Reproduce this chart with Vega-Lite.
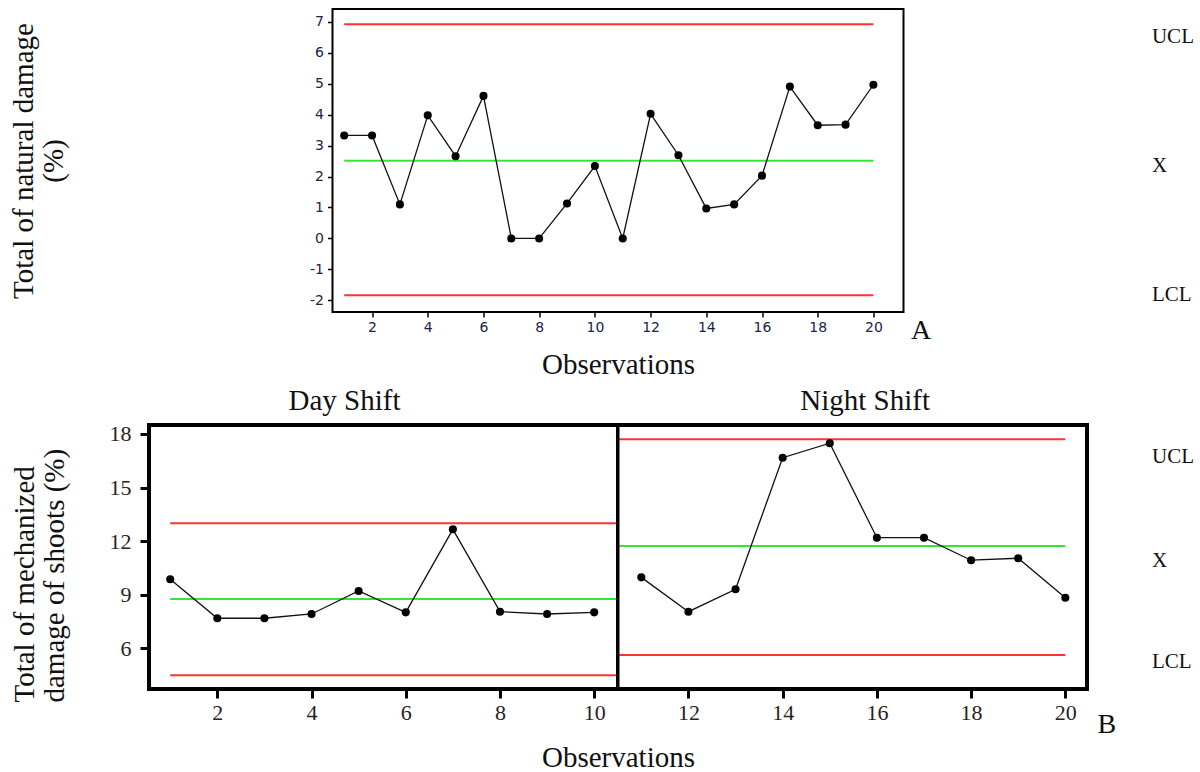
{
  "$schema": "https://vega.github.io/schema/vega-lite/v6.json",
  "background": "white",
  "padding": {"left": 8, "top": 8, "right": 0, "bottom": 0},
  "spacing": 113,
  "center": true,
  "bounds": "flush",
  "config": {"view": {"stroke": null}},
  "datasets": {
    "a": [
      {"x": 1, "y": 3.33}, {"x": 2, "y": 3.33}, {"x": 3, "y": 1.10}, {"x": 4, "y": 3.98},
      {"x": 5, "y": 2.66}, {"x": 6, "y": 4.61}, {"x": 7, "y": 0}, {"x": 8, "y": 0},
      {"x": 9, "y": 1.13}, {"x": 10, "y": 2.34}, {"x": 11, "y": 0}, {"x": 12, "y": 4.03},
      {"x": 13, "y": 2.69}, {"x": 14, "y": 0.97}, {"x": 15, "y": 1.10}, {"x": 16, "y": 2.03},
      {"x": 17, "y": 4.91}, {"x": 18, "y": 3.66}, {"x": 19, "y": 3.68}, {"x": 20, "y": 4.97}
    ],
    "aLimits": [
      {"x": 1, "x2": 20, "y": 6.93, "kind": "limit"},
      {"x": 1, "x2": 20, "y": 2.51, "kind": "center"},
      {"x": 1, "x2": 20, "y": -1.84, "kind": "limit"}
    ],
    "aSide": [
      {"x": 30.0, "y": 6.33, "label": "UCL"},
      {"x": 30.0, "y": 2.16, "label": "X"},
      {"x": 30.0, "y": -2.03, "label": "LCL"}
    ],
    "aTag": [{"x": 21.71, "y": -3.26, "label": "A"}],
    "b": [
      {"x": 1, "y": 9.86, "shift": "Day"}, {"x": 2, "y": 7.68, "shift": "Day"},
      {"x": 3, "y": 7.68, "shift": "Day"}, {"x": 4, "y": 7.92, "shift": "Day"},
      {"x": 5, "y": 9.21, "shift": "Day"}, {"x": 6, "y": 8.01, "shift": "Day"},
      {"x": 7, "y": 12.66, "shift": "Day"}, {"x": 8, "y": 8.05, "shift": "Day"},
      {"x": 9, "y": 7.92, "shift": "Day"}, {"x": 10, "y": 8.01, "shift": "Day"},
      {"x": 11, "y": 9.97, "shift": "Night"}, {"x": 12, "y": 8.05, "shift": "Night"},
      {"x": 13, "y": 9.30, "shift": "Night"}, {"x": 14, "y": 16.67, "shift": "Night"},
      {"x": 15, "y": 17.48, "shift": "Night"}, {"x": 16, "y": 12.19, "shift": "Night"},
      {"x": 17, "y": 12.19, "shift": "Night"}, {"x": 18, "y": 10.93, "shift": "Night"},
      {"x": 19, "y": 11.04, "shift": "Night"}, {"x": 20, "y": 8.83, "shift": "Night"}
    ],
    "bLimits": [
      {"x": 1, "x2": 10.5, "y": 13.0, "kind": "limit"},
      {"x": 1, "x2": 10.5, "y": 8.76, "kind": "center"},
      {"x": 1, "x2": 10.5, "y": 4.49, "kind": "limit"},
      {"x": 10.5, "x2": 20, "y": 17.70, "kind": "limit"},
      {"x": 10.5, "x2": 20, "y": 11.73, "kind": "center"},
      {"x": 10.5, "x2": 20, "y": 5.62, "kind": "limit"}
    ],
    "bDivider": [{"x": 10.5, "y": 3.72, "y2": 18.5}],
    "bShift": [
      {"x": 4.70, "y": 19.34, "label": "Day Shift"},
      {"x": 15.75, "y": 19.34, "label": "Night Shift"}
    ],
    "bSide": [
      {"x": 21.84, "y": 16.38, "label": "UCL"},
      {"x": 21.84, "y": 10.55, "label": "X"},
      {"x": 21.84, "y": 4.90, "label": "LCL"}
    ],
    "bTag": [{"x": 20.88, "y": 1.26, "label": "B"}]
  },
  "vconcat": [
    {
      "width": 571,
      "height": 303,
      "view": {"stroke": "black", "strokeWidth": 2, "fill": "white"},
      "encoding": {
        "x": {
          "field": "x", "type": "quantitative",
          "scale": {"domain": [0.58, 21.08], "nice": false, "zero": false},
          "axis": {
            "title": "Observations",
            "values": [2, 4, 6, 8, 10, 12, 14, 16, 18, 20],
            "labelOverlap": false,
            "grid": false, "domain": false,
            "tickColor": "black", "tickSize": 5, "tickWidth": 1.5,
            "labelFont": "DejaVu Sans", "labelFontSize": 14, "labelColor": "#22224a", "labelPadding": 3,
            "titleFont": "Liberation Serif", "titleFontSize": 29, "titleFontWeight": "normal",
            "titleColor": "#111", "titlePadding": 16
          }
        },
        "y": {
          "field": "y", "type": "quantitative",
          "scale": {"domain": [-2.38, 7.42], "nice": false, "zero": false},
          "axis": {
            "title": ["Total of natural damage", "(%)"],
            "values": [-2, -1, 0, 1, 2, 3, 4, 5, 6, 7],
            "labelExpr": "'' + datum.value",
            "labelOverlap": false,
            "grid": false, "domain": false,
            "tickColor": "black", "tickSize": 5, "tickWidth": 1.5,
            "labelFont": "DejaVu Sans", "labelFontSize": 14, "labelColor": "#22224a", "labelPadding": 4,
            "titleFont": "Liberation Serif", "titleFontSize": 29, "titleFontWeight": "normal",
            "titleColor": "#111", "titlePadding": 241, "titleLineHeight": 30
          }
        }
      },
      "layer": [
        {
          "data": {"name": "aLimits"},
          "mark": {"type": "rule", "strokeWidth": 2},
          "encoding": {
            "x2": {"field": "x2"},
            "color": {
              "field": "kind", "type": "nominal",
              "scale": {"domain": ["limit", "center"], "range": ["#ff3333", "#33e833"]},
              "legend": null
            }
          }
        },
        {
          "data": {"name": "a"},
          "mark": {"type": "line", "color": "#111", "strokeWidth": 1.3},
          "encoding": {}
        },
        {
          "data": {"name": "a"},
          "mark": {"type": "point", "filled": true, "color": "black", "size": 65, "opacity": 1}
        },
        {
          "data": {"name": "aSide"},
          "mark": {"type": "text", "font": "Liberation Serif", "fontSize": 21, "align": "left", "baseline": "alphabetic", "color": "#111"},
          "encoding": {"text": {"field": "label"}}
        },
        {
          "data": {"name": "aTag"},
          "mark": {"type": "text", "font": "Liberation Serif", "fontSize": 28, "align": "center", "baseline": "alphabetic", "color": "#111"},
          "encoding": {"text": {"field": "label"}}
        }
      ]
    },
    {
      "width": 938,
      "height": 264,
      "view": {"stroke": "black", "strokeWidth": 4, "fill": "white"},
      "encoding": {
        "x": {
          "field": "x", "type": "quantitative",
          "scale": {"domain": [0.55, 20.46], "nice": false, "zero": false},
          "axis": {
            "title": "Observations",
            "values": [2, 4, 6, 8, 10, 12, 14, 16, 18, 20],
            "labelOverlap": false,
            "grid": false, "domain": false,
            "tickColor": "black", "tickSize": 9, "tickWidth": 3,
            "labelFont": "Liberation Serif", "labelFontSize": 22, "labelColor": "#2a2222", "labelPadding": 4,
            "titleFont": "Liberation Serif", "titleFontSize": 29, "titleFontWeight": "normal",
            "titleColor": "#111", "titlePadding": 20
          }
        },
        "y": {
          "field": "y", "type": "quantitative",
          "scale": {"domain": [3.72, 18.5], "nice": false, "zero": false},
          "axis": {
            "title": ["Total of mechanized", "damage of shoots (%)"],
            "values": [6, 9, 12, 15, 18],
            "labelOverlap": false,
            "grid": false, "domain": false,
            "tickColor": "black", "tickSize": 9, "tickWidth": 3,
            "labelFont": "Liberation Serif", "labelFontSize": 22, "labelColor": "#2a2222", "labelPadding": 9,
            "titleFont": "Liberation Serif", "titleFontSize": 29, "titleFontWeight": "normal",
            "titleColor": "#111", "titlePadding": 40, "titleLineHeight": 30, "titleAnchor": "start",
            "titleY": 277
          }
        }
      },
      "layer": [
        {
          "data": {"name": "bLimits"},
          "mark": {"type": "rule", "strokeWidth": 2},
          "encoding": {
            "x2": {"field": "x2"},
            "color": {
              "field": "kind", "type": "nominal",
              "scale": {"domain": ["limit", "center"], "range": ["#ff3333", "#33e833"]},
              "legend": null
            }
          }
        },
        {
          "data": {"name": "bDivider"},
          "mark": {"type": "rule", "color": "black", "strokeWidth": 3.5},
          "encoding": {"y2": {"field": "y2"}}
        },
        {
          "data": {"name": "b"},
          "mark": {"type": "line", "color": "#111", "strokeWidth": 1.3},
          "encoding": {"detail": {"field": "shift"}}
        },
        {
          "data": {"name": "b"},
          "mark": {"type": "point", "filled": true, "color": "black", "size": 65, "opacity": 1}
        },
        {
          "data": {"name": "bShift"},
          "mark": {"type": "text", "font": "Liberation Serif", "fontSize": 29, "align": "center", "baseline": "alphabetic", "color": "#111"},
          "encoding": {"text": {"field": "label"}}
        },
        {
          "data": {"name": "bSide"},
          "mark": {"type": "text", "font": "Liberation Serif", "fontSize": 21, "align": "left", "baseline": "alphabetic", "color": "#111"},
          "encoding": {"text": {"field": "label"}}
        },
        {
          "data": {"name": "bTag"},
          "mark": {"type": "text", "font": "Liberation Serif", "fontSize": 28, "align": "center", "baseline": "alphabetic", "color": "#111"},
          "encoding": {"text": {"field": "label"}}
        }
      ]
    }
  ]
}
